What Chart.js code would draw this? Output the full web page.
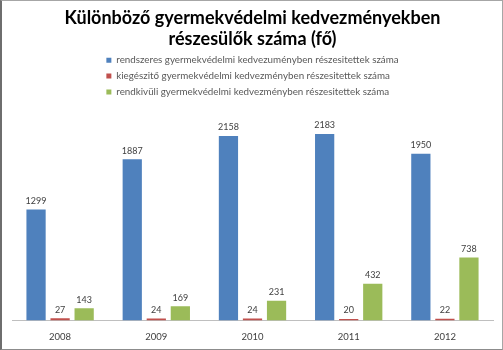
<!DOCTYPE html>
<html>
<head>
<meta charset="utf-8">
<script src="https://cdn.jsdelivr.net/npm/chart.js@4/dist/chart.umd.min.js"></script>
<style>
  html, body { margin: 0; padding: 0; background: #fff; }
  #frame {
    width: 503px; height: 350px; box-sizing: border-box;
    border-top: 1px solid #a6a6a6; border-right: 1px solid #a6a6a6;
    border-bottom: 1px solid #8c8c8c; border-left: 2px solid #6e6e6e;
    background: #fff;
  }
  #wrap { position: relative; width: 500px; height: 348px; }
</style>
</head>
<body>
<div id="frame"><div id="wrap"><canvas id="c"></canvas></div></div>
<script>
const years = ['2008', '2009', '2010', '2011', '2012'];
const rendszeres = [1299, 1887, 2158, 2183, 1950];
const kiegeszito = [27, 24, 24, 20, 22];
const rendkivuli = [143, 169, 231, 432, 738];
const seriesNames = [
  'rendszeres gyermekvédelmi kedvezuményben részesitettek száma',
  'kiegészitő gyermekvédelmi kedvezményben részesitettek száma',
  'rendkivüli gyermekvédelmi kedvezményben részesitettek száma'
];
const titleLines = ['Különböző gyermekvédelmi kedvezményekben', 'részesülők száma (fő)'];

const legendFont = { family: 'Lato', size: 9.8 };

// Writes each bar's value just above it
const valueLabels = {
  id: 'valueLabels',
  afterDatasetsDraw(chart) {
    const ctx = chart.ctx;
    ctx.save();
    ctx.font = '9px Lato';
    ctx.fillStyle = '#404040';
    ctx.textAlign = 'center';
    ctx.textBaseline = 'bottom';
    chart.data.datasets.forEach((ds, i) => {
      chart.getDatasetMeta(i).data.forEach((bar, j) => {
        ctx.fillText(String(ds.data[j]), bar.x, bar.y - 4);
      });
    });
    ctx.restore();
  }
};

// Legend rows share one left edge, with the widest row centred
const legendBlock = {
  id: 'legendBlock',
  beforeDraw(chart) {
    const lg = chart.legend;
    if (!lg || lg._blockPlaced) return;
    const ctx = chart.ctx;
    const opts = lg.options.labels;
    ctx.save();
    ctx.font = legendFont.size + 'px ' + legendFont.family;
    const widest = Math.max(...chart.data.datasets.map(d => ctx.measureText(d.label).width));
    ctx.restore();
    const span = opts.boxWidth + legendFont.size / 2 + widest;
    const centre = (lg.left + lg.right) / 2;
    lg.left = centre - span / 2 - opts.padding;
    lg._blockPlaced = true;
  }
};

new Chart(document.getElementById('c'), {
  type: 'bar',
  data: {
    labels: years,
    datasets: [
      { label: seriesNames[0], data: rendszeres, backgroundColor: '#4F81BD' },
      { label: seriesNames[1], data: kiegeszito, backgroundColor: '#C0504D' },
      { label: seriesNames[2], data: rendkivuli, backgroundColor: '#9BBB59' }
    ]
  },
  options: {
    responsive: true,
    maintainAspectRatio: false,
    animation: false,
    layout: { padding: { left: 10, right: 9, top: 0, bottom: 3 } },
    datasets: { bar: { categoryPercentage: 0.75, barPercentage: 0.8 } },
    plugins: {
      title: {
        display: true,
        text: titleLines,
        color: '#000',
        font: { family: 'Lato', size: 18, weight: 'bold', lineHeight: 1.15 },
        padding: { top: 7, bottom: 0 }
      },
      legend: {
        display: true,
        position: 'top',
        align: 'start',
        labels: {
          color: '#595959',
          font: legendFont,
          boxWidth: 5,
          boxHeight: 5,
          padding: 6
        }
      },
      tooltip: { enabled: false }
    },
    scales: {
      x: {
        grid: { display: false },
        border: { display: true, color: '#bfbfbf', width: 1 },
        ticks: { color: '#404040', font: { family: 'Lato', size: 9.5 }, padding: 3 }
      },
      y: {
        display: false,
        min: 0,
        max: 2500
      }
    }
  },
  plugins: [valueLabels, legendBlock]
});
</script>
</body>
</html>
